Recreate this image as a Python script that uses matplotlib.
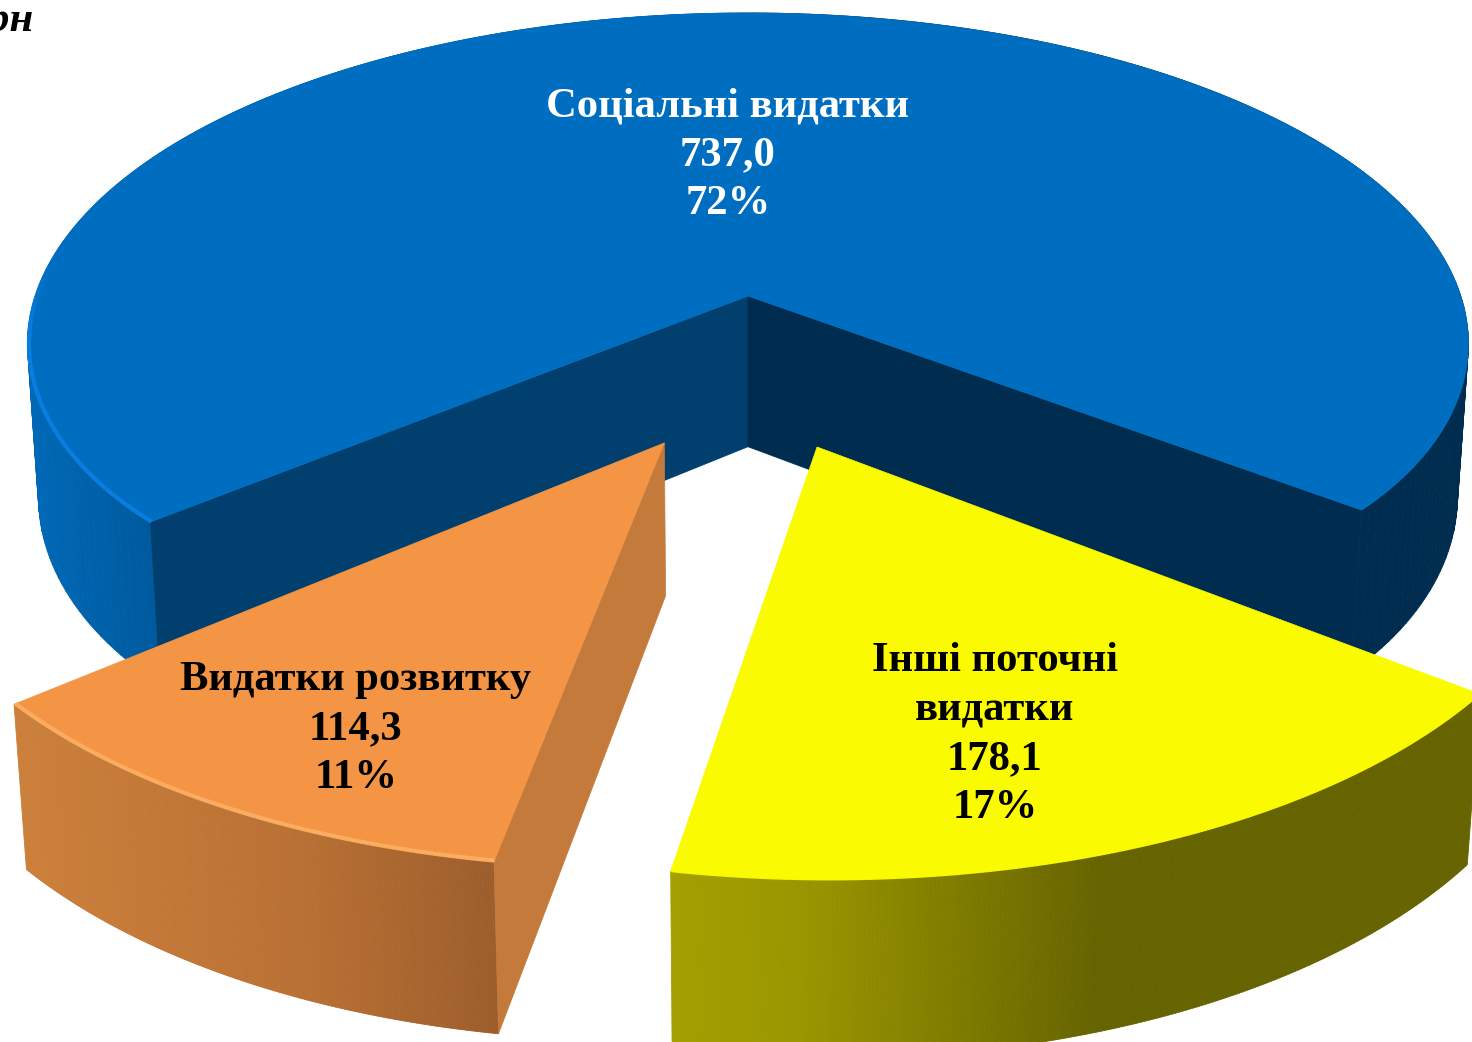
import matplotlib
matplotlib.use("Agg")
import matplotlib.pyplot as plt
from matplotlib.collections import LineCollection, PolyCollection
from matplotlib.colors import to_rgb
from matplotlib.patches import Polygon
import numpy as np

names = ["Соціальні видатки", "Інші поточні\nвидатки", "Видатки розвитку"]
values = [737.0, 178.1, 114.3]

## Offsets of the exploded slices on the pie plane
offsets = [(0.0, 0.0), (0.0906, -0.435), (-0.110, -0.424)]
radii = [(1.0, 1.0), (0.985, 0.985), (0.977, 0.99)]
depths = [1.0, 1.0, 0.965]
## Small angle corrections (deg) at the start and end of each slice
nudges = [(0.0, -0.6), (-0.3, 0.0), (-0.1, -0.3)]
top_colors = ["#006EC0", "#FAFA00", "#F39545"]
wall_colors = ["#003F6E", "#6A6800", "#C47A3A"]
label_colors = ["white", "black", "black"]
label_pos = [(728, 103), (995, 658), (356, 677)]

## Camera fitted by eye: pie centre, scales and perspective
cx, cy = 748, 296
sx, sy, sz = 713, 324.8, 153
k_persp, m_persp = 0.1475, 0.015
start_angle = -129.7
line_step = 49


def project(u, v, z=0.0):
    w = 1 + k_persp * v - m_persp * z
    return cx + sx * u / w, cy - (sy * v + sz * z) / w


def side_color(name, x):
    ## Horizontal shading of the outer wall
    stops = {
        "blue": ([28, 150, 748, 749, 1470], ["#0068B6", "#005A9E", "#005A9E", "#002D4F", "#002D4F"]),
        "yellow": ([672, 800, 1100, 1472], ["#A3A000", "#9A9600", "#666400", "#666400"]),
        "orange": ([28, 300, 497], ["#CB7F3A", "#B97033", "#9C5D2C"]),
    }
    xs, cols = stops[name]
    rgb = np.array([to_rgb(c) for c in cols])
    return [np.interp(x, xs, rgb[:, i]) for i in range(3)]


fig = plt.figure(figsize=(14.72, 10.42), dpi=100)
ax = fig.add_axes([0, 0, 1, 1], frameon=False)
ax.set_xlim(0, 1472)
ax.set_ylim(1042, 0)
ax.set_xticks([])
ax.set_yticks([])

total = sum(values)
spans = [360 * val / total for val in values]
starts = start_angle + np.cumsum([0] + spans[:-1])
side_names = ["blue", "yellow", "orange"]
rim_colors = ["#0A7EE0", "#FAFA00", "#FCAE62"]

## Painter's order: blue at the back, then the two front slices
for i in [0, 1, 2]:
    ou, ov = offsets[i]
    deg = np.linspace(starts[i] + nudges[i][0], starts[i] + spans[i] + nudges[i][1], 240)
    ang = np.radians(deg)
    r = np.linspace(radii[i][0], radii[i][1], len(ang))
    if i == 0:
        ## The blue slice pulls in a little near its bevelled corners
        r = r - 0.012 * (np.exp(-(deg - deg[0]) / 10) + np.exp(-(deg[-1] - deg) / 10))
    u = ou + r * np.sin(ang)
    v = ov + r * np.cos(ang)
    tx, ty = project(u, v, 0.0)
    bx, by = project(u, v, -depths[i])
    ax0, ay0 = project(ou, ov, 0.0)
    ax1, ay1 = project(ou, ov, -depths[i])

    ## Outer wall as thin shaded strips
    quads = []
    cols = []
    for j in range(len(ang) - 1):
        quads.append([(tx[j], ty[j]), (tx[j + 1], ty[j + 1]), (bx[j + 1], by[j + 1]), (bx[j], by[j])])
        cols.append(side_color(side_names[i], (tx[j] + tx[j + 1]) / 2))
    ax.add_collection(PolyCollection(quads, facecolors=cols, edgecolors=cols, linewidths=0.6, zorder=i * 10 + 1))

    ## Cut walls
    if i == 0:
        ax.add_patch(Polygon([(ax0, ay0), (tx[0], ty[0]), (bx[0], by[0]), (ax1, ay1)],
                             fc=wall_colors[0], ec=wall_colors[0], lw=0.5, zorder=2))
        ax.add_patch(Polygon([(ax0, ay0), (tx[-1], ty[-1]), (bx[-1], by[-1]), (ax1, ay1)],
                             fc="#002D4F", ec="#002D4F", lw=0.5, zorder=2))
    if i == 2:
        ax.add_patch(Polygon([(ax0, ay0), (tx[0], ty[0]), (bx[0], by[0]), (ax1, ay1)],
                             fc=wall_colors[2], ec=wall_colors[2], lw=0.5, zorder=22))

    ## Top face
    face = np.column_stack([np.r_[ax0, tx], np.r_[ay0, ty]])
    ax.add_patch(Polygon(face, fc=top_colors[i], ec=top_colors[i], lw=0.5, zorder=i * 10 + 3))

    ## Light rim along the near part of the arc, fading out on the blue slice
    rx, ry = project(ou + (r - 0.002) * np.sin(ang), ov + (r - 0.002) * np.cos(ang), 0.0)
    pts = np.column_stack([rx, ry])
    alpha = np.ones(len(pts) - 1)
    if i == 0:
        alpha = np.clip((-85 - deg[:-1]) / 12, 0, 1)
    segs = np.stack([pts[:-1], pts[1:]], axis=1)
    seg_cols = [to_rgb(rim_colors[i]) + (a,) for a in alpha]
    ax.add_collection(LineCollection(segs, colors=seg_cols, linewidths=3, capstyle="butt", zorder=i * 10 + 4))

    ## Labels, one line at a time
    lines = names[i].split("\n") + [f"{values[i]:.1f}".replace(".", ","), f"{round(100 * values[i] / total)}%"]
    lx, ly = label_pos[i]
    for n, line in enumerate(lines):
        ax.text(lx, ly + 3 + n * line_step, line, ha="center", va="center", color=label_colors[i],
                fontsize=30.7, fontweight="bold", family="Liberation Serif", zorder=50)

ax.text(34, 31, "грн", ha="right", va="baseline", color="black", fontsize=31, fontweight="bold",
        fontstyle="italic", family="Liberation Serif", zorder=50)

fig.savefig("out.png", dpi=100)
plt.close("all")
